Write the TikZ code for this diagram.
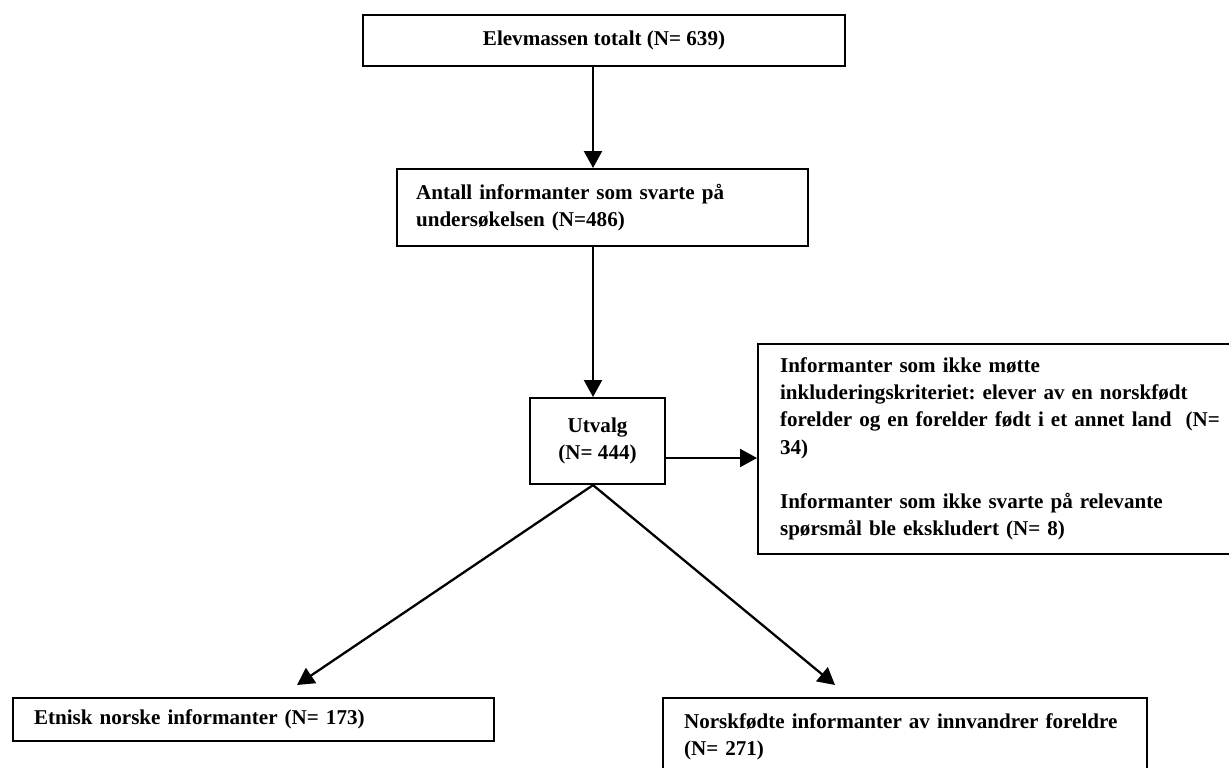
\documentclass[tikz,border=0pt]{standalone}
\usepackage{fontspec}
\setmainfont{Liberation Serif}
\usetikzlibrary{arrows.meta}
\frenchspacing

\begin{document}
\begin{tikzpicture}[x=0.02cm,y=-0.02cm,
    box/.style={draw,line width=1.2pt,anchor=north west,inner ysep=0pt,
      font=\fontsize{12}{15.5}\selectfont\bfseries},
    arr/.style={line width=1.3pt,-{Triangle[length=0.34cm,width=0.36cm]}}]

    \clip (0,0) rectangle (1229,767);

    % main line
    \coordinate (spine) at (593,0);
    \coordinate (side) at (0,458);
    \node[box,minimum width=9.64cm,minimum height=1.02cm] (total) at (362,14)
      {Elevmassen totalt (N= 639)};
    \node[box,minimum width=8.22cm,minimum height=1.54cm,inner xsep=0.38cm,
      text width=7.46cm,align=left] (answered) at (396,168)
      {Antall informanter som svarte på\\ undersøkelsen (N=486)};
    \node[box,minimum width=2.7cm,minimum height=1.72cm,align=center] (utvalg) at (529,397)
      {Utvalg\\(N= 444)};

    % excluded
    \node[box,minimum width=11.2cm,minimum height=4.2cm,inner xsep=0.44cm,
      text width=10.32cm,align=left] (excluded) at (757,343)
      {Informanter som ikke møtte\\
       inkluderingskriteriet: elever av en norskfødt\\
       forelder og en forelder født i et annet land~ (N=\\
       34)\\[15.5pt]
       Informanter som ikke svarte på relevante\\
       spørsmål ble ekskludert (N= 8)};

    % groups
    \coordinate (tipL) at (297,685);
    \coordinate (tipR) at (835,685);
    \node[box,minimum width=9.62cm,minimum height=0.86cm,inner xsep=0.42cm,
      text width=8.78cm,align=left] (etnisk) at (12,697)
      {Etnisk norske informanter (N= 173)};
    \node[box,minimum width=9.68cm,minimum height=1.56cm,inner xsep=0.42cm,
      text width=8.84cm,align=left] (norskfodt) at (662,697)
      {Norskfødte informanter av innvandrer foreldre\\ (N= 271)};

    \draw[arr] (total.south -| spine) -- (answered.north -| spine);
    \draw[arr] (answered.south -| spine) -- (utvalg.north -| spine);
    \draw[arr] (utvalg.east |- side) -- (excluded.west |- side);
    \draw[arr] (utvalg.south -| spine) -- (tipL);
    \draw[arr] (utvalg.south -| spine) -- (tipR);

  \end{tikzpicture}
\end{document}
